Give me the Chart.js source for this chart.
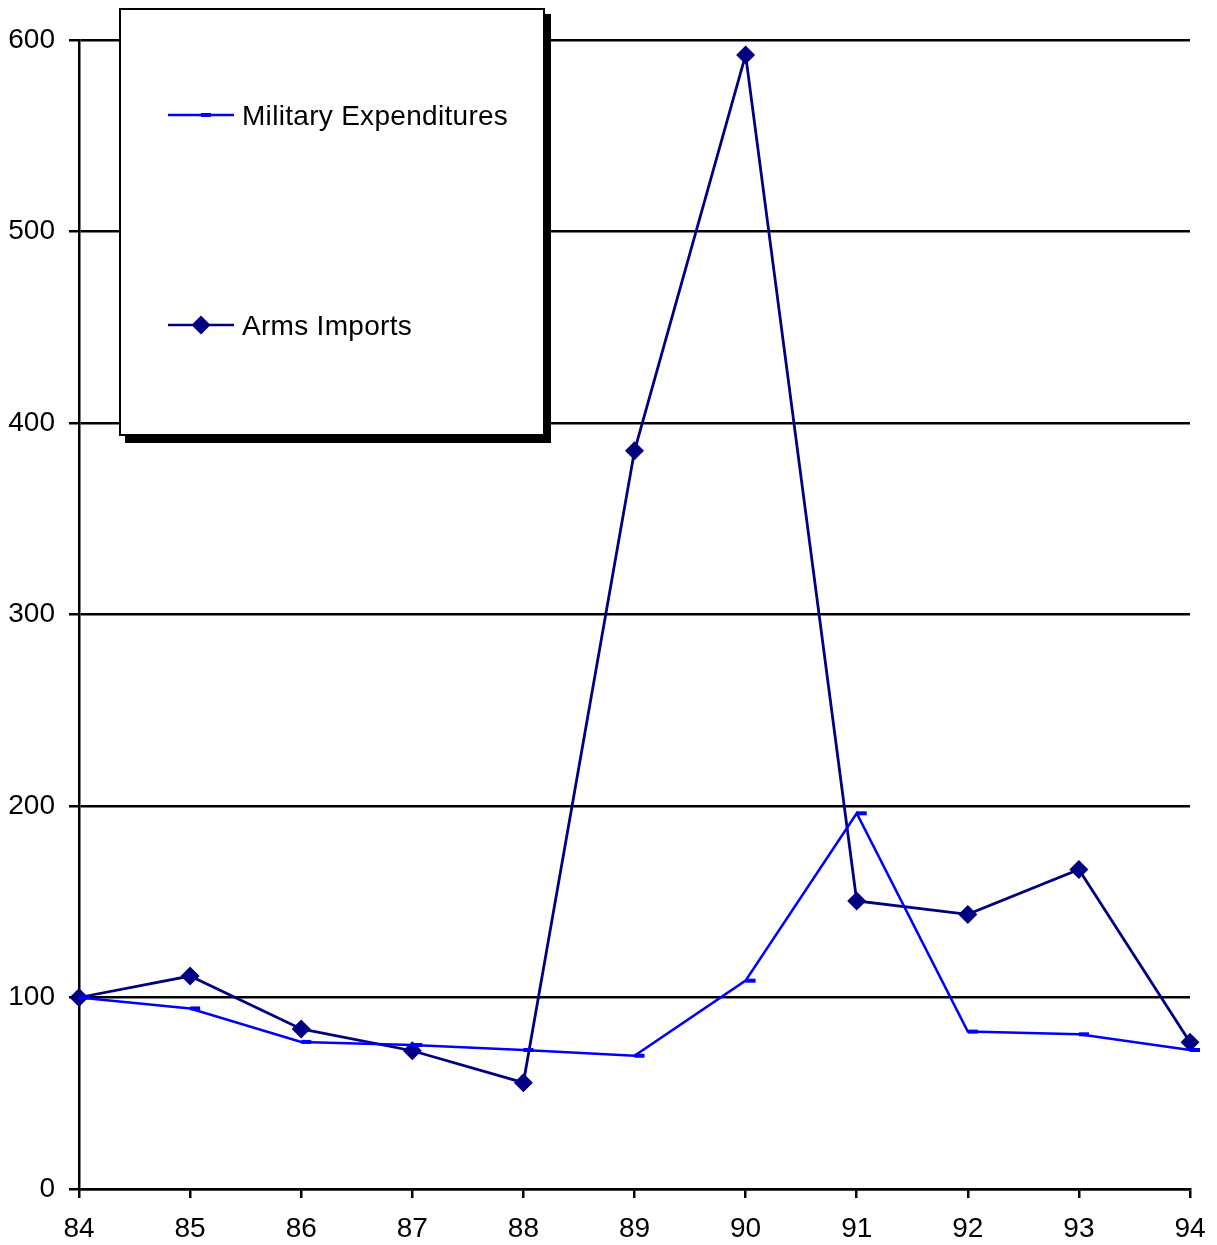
<!DOCTYPE html>
<html>
<head>
<meta charset="utf-8">
<title>Military Expenditures and Arms Imports</title>
<script src="https://cdn.jsdelivr.net/npm/chart.js@4/dist/chart.umd.min.js"></script>
<style>
  html, body { margin: 0; padding: 0; background: #ffffff; }
  #wrap { width: 1217px; height: 1245px; }
</style>
</head>
<body>
<div id="wrap"><canvas id="chart" width="1217" height="1245"></canvas></div>
<script>
// Index values (1984 = 100)
const years = ['84', '85', '86', '87', '88', '89', '90', '91', '92', '93', '94'];
const militaryExpenditures = [100, 94.3, 76.8, 75.2, 72.6, 69.6, 108.8, 196.2, 82.2, 80.8, 72.6];
const armsImports = [100, 111.2, 83.6, 72.2, 55.5, 385.5, 592.2, 150.4, 143.4, 166.9, 76.6];
const yTicks = [0, 100, 200, 300, 400, 500, 600];

const FONT = '"Liberation Sans", Arial, sans-serif';
const MIL_COLOR = '#0000ff';
const ARMS_COLOR = '#000080';

// Small horizontal dash that sits just to the right of the data point
function dashMarker(color) {
  const c = document.createElement('canvas');
  c.width = 22;
  c.height = 6;
  const g = c.getContext('2d');
  g.fillStyle = color;
  g.fillRect(11, 1, 10, 4);
  return c;
}
const milMarker = dashMarker(MIL_COLOR);

// Boxed legend with a drop shadow, drawn over the plot
const legendBox = {
  id: 'legendBox',
  afterDraw(chart) {
    const ctx = chart.ctx;
    const left = chart.chartArea.left + 40;
    const top = 8;
    const w = 425, h = 427;
    ctx.save();
    ctx.fillStyle = '#000';
    ctx.fillRect(left + 6, top + 6, w + 1, h + 2);
    ctx.fillStyle = '#fff';
    ctx.fillRect(left, top, w, h);
    ctx.strokeStyle = '#000';
    ctx.lineWidth = 2;
    ctx.strokeRect(left + 1, top + 1, w - 1, h - 1);

    const rows = [top + 107, top + 317];
    chart.data.datasets.forEach((ds, i) => {
      const y = rows[i];
      const x0 = left + 49, x1 = left + 115, xm = left + 82;
      ctx.strokeStyle = ds.borderColor;
      ctx.lineWidth = 2.5;
      ctx.beginPath();
      ctx.moveTo(x0, y);
      ctx.lineTo(x1, y);
      ctx.stroke();
      if (ds.pointStyle === 'rectRot') {
        const r = 9.5;
        ctx.fillStyle = ds.pointBackgroundColor;
        ctx.beginPath();
        ctx.moveTo(xm, y - r);
        ctx.lineTo(xm + r, y);
        ctx.lineTo(xm, y + r);
        ctx.lineTo(xm - r, y);
        ctx.closePath();
        ctx.fill();
      } else {
        ctx.drawImage(ds.pointStyle, xm - ds.pointStyle.width / 2, y - ds.pointStyle.height / 2);
      }
      ctx.fillStyle = '#000';
      ctx.font = '28px ' + FONT;
      ctx.letterSpacing = '0.3px';
      ctx.textAlign = 'left';
      ctx.textBaseline = 'alphabetic';
      ctx.fillText(ds.label, left + 123, y + 10);
    });
    ctx.restore();
  }
};

new Chart(document.getElementById('chart'), {
  type: 'line',
  data: {
    labels: years,
    datasets: [
      {
        label: 'Military Expenditures',
        data: militaryExpenditures,
        borderColor: MIL_COLOR,
        backgroundColor: MIL_COLOR,
        borderWidth: 2.6,
        pointStyle: milMarker,
        pointBackgroundColor: MIL_COLOR,
        tension: 0,
        clip: false
      },
      {
        label: 'Arms Imports',
        data: armsImports,
        borderColor: ARMS_COLOR,
        backgroundColor: ARMS_COLOR,
        borderWidth: 2.8,
        pointStyle: 'rectRot',
        pointRadius: 9.5,
        pointBackgroundColor: ARMS_COLOR,
        pointBorderColor: ARMS_COLOR,
        pointBorderWidth: 0,
        tension: 0,
        clip: false
      }
    ]
  },
  options: {
    responsive: false,
    animation: false,
    devicePixelRatio: 1,
    layout: { padding: { top: 40, right: 27, left: 0, bottom: 0 } },
    plugins: {
      legend: { display: false },
      tooltip: { enabled: false }
    },
    scales: {
      x: {
        type: 'category',
        offset: false,
        grid: {
          drawOnChartArea: false,
          drawTicks: true,
          tickLength: 9,
          color: '#000',
          lineWidth: 2.5
        },
        border: { display: true, color: '#000', width: 2.5 },
        ticks: {
          color: '#000',
          font: { family: FONT, size: 28 },
          padding: 14,
          maxRotation: 0,
          autoSkip: false
        },
        afterFit(scale) {
          scale.height = 56;
          scale.paddingLeft = 0;
          scale.paddingRight = 0;
        }
      },
      y: {
        min: 0,
        max: 600,
        grid: { color: '#000', lineWidth: 2.5, tickLength: 10 },
        border: { display: true, color: '#000', width: 2.5 },
        ticks: {
          color: '#000',
          font: { family: FONT, size: 28 },
          padding: 14
        },
        afterBuildTicks(scale) { scale.ticks = yTicks.map(v => ({ value: v })); },
        afterFit(scale) {
          scale.width = 79;
          scale.paddingTop = 0;
          scale.paddingBottom = 0;
        }
      }
    }
  },
  plugins: [legendBox]
});
</script>
</body>
</html>
